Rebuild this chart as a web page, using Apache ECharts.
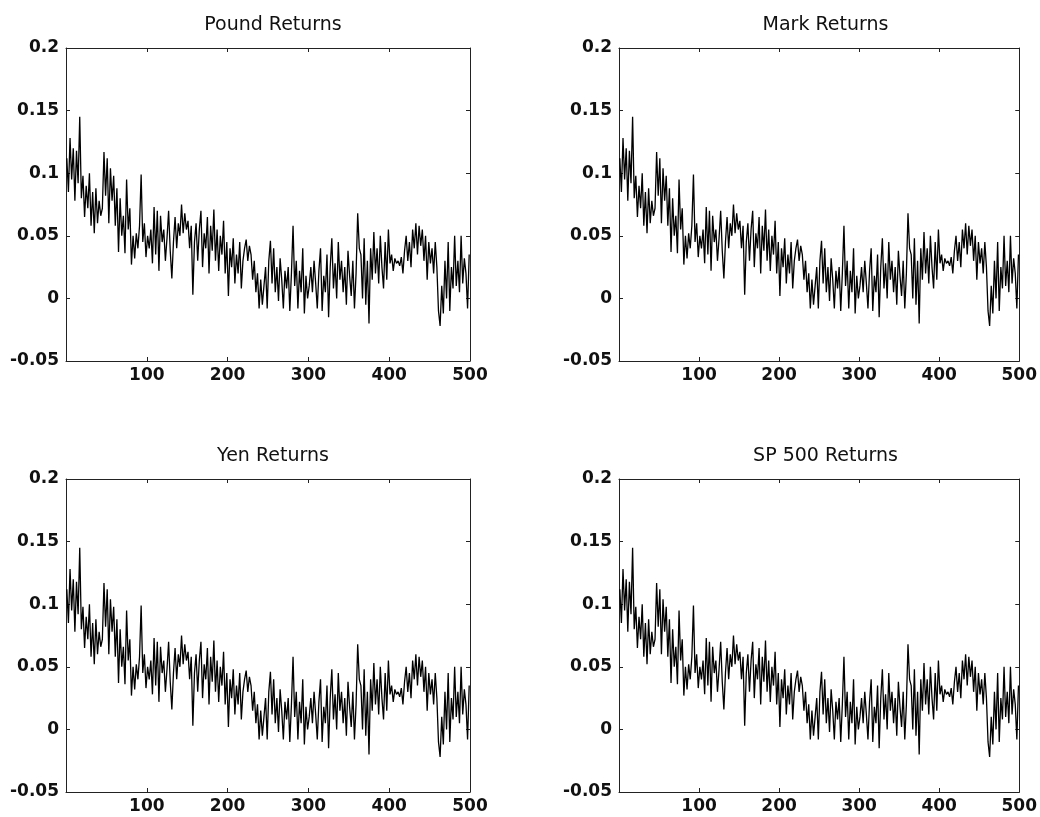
<!DOCTYPE html>
<html>
<head>
<meta charset="utf-8">
<script src="https://cdn.jsdelivr.net/npm/echarts@6/dist/echarts.min.js"></script>
<style>
  html, body { margin: 0; padding: 0; background: #fff; }
  #chart { width: 1040px; height: 817px; }
</style>
</head>
<body>
<div id="chart"></div>
<script>
// panel titles, in reading order
const panelTitles = ["Pound Returns", "Mark Returns", "Yen Returns", "SP 500 Returns"];

// tick values
const xTicks = [100, 200, 300, 400, 500];
const yTicks = [-0.05, 0, 0.05, 0.1, 0.15, 0.2];

// returns, one value every 2 periods (t = 1, 3, 5, ... 499)
const returns = [
  0.112, 0.085, 0.128, 0.095, 0.120, 0.078, 0.118, 0.092, 0.145, 0.080,
  0.098, 0.065, 0.090, 0.072, 0.100, 0.058, 0.085, 0.052, 0.088, 0.060,
  0.078, 0.066, 0.072, 0.117, 0.082, 0.112, 0.060, 0.104, 0.078, 0.098,
  0.058, 0.088, 0.037, 0.080, 0.050, 0.066, 0.036, 0.095, 0.055, 0.072,
  0.027, 0.050, 0.032, 0.052, 0.040, 0.058, 0.099, 0.045, 0.060, 0.033,
  0.050, 0.040, 0.055, 0.028, 0.073, 0.035, 0.070, 0.022, 0.066, 0.045,
  0.055, 0.030, 0.048, 0.070, 0.038, 0.016, 0.045, 0.065, 0.040, 0.060,
  0.050, 0.075, 0.052, 0.068, 0.055, 0.062, 0.040, 0.058, 0.003, 0.045,
  0.060, 0.030, 0.055, 0.070, 0.025, 0.052, 0.040, 0.065, 0.020, 0.058,
  0.038, 0.071, 0.030, 0.055, 0.022, 0.050, 0.035, 0.062, 0.020, 0.045,
  0.002, 0.040, 0.025, 0.048, 0.012, 0.035, 0.020, 0.045, 0.008, 0.030,
  0.040, 0.047, 0.030, 0.042, 0.035, 0.015, 0.030, 0.005, 0.020, -0.008,
  0.015, -0.005, 0.010, 0.025, -0.008, 0.030, 0.046, 0.012, 0.040, 0.005,
  0.025, -0.002, 0.032, 0.015, -0.008, 0.022, 0.008, 0.025, -0.010, 0.020,
  0.058, 0.010, 0.030, -0.008, 0.022, 0.005, 0.040, -0.012, 0.018, 0.000,
  0.010, 0.025, 0.005, 0.030, 0.012, -0.008, 0.022, 0.040, -0.010, 0.018,
  0.005, 0.035, -0.015, 0.025, 0.048, 0.008, 0.028, 0.000, 0.045, 0.015,
  0.030, 0.005, 0.025, -0.005, 0.038, 0.018, 0.002, 0.030, -0.008, 0.020,
  0.068, 0.040, 0.035, 0.000, 0.048, -0.005, 0.030, -0.020, 0.040, 0.015,
  0.053, 0.020, 0.040, 0.012, 0.050, 0.025, 0.008, 0.045, 0.015, 0.055,
  0.028, 0.035, 0.022, 0.032, 0.028, 0.030, 0.026, 0.033, 0.020, 0.038,
  0.050, 0.030, 0.045, 0.025, 0.055, 0.040, 0.060, 0.035, 0.058, 0.042,
  0.055, 0.030, 0.050, 0.015, 0.045, 0.028, 0.040, 0.020, 0.045, 0.025,
  -0.010, -0.022, 0.010, -0.012, 0.030, 0.000, 0.045, -0.010, 0.025, 0.008,
  0.050, 0.010, 0.030, 0.005, 0.050, 0.012, 0.032, 0.020, -0.008, 0.035
];

// the four panels show the same series
const panelData = [returns, returns, returns, returns];

const chart = echarts.init(document.getElementById("chart"));

const boxes = [
  { left: 66, top: 48, width: 404, height: 313 },
  { left: 619, top: 48, width: 403, height: 313 },
  { left: 66, top: 479, width: 404, height: 313 },
  { left: 619, top: 479, width: 403, height: 313 }
];

const lineColor = "#222";
const labelFont = { fontFamily: "DejaVu Sans", fontSize: 17, fontWeight: "bold", color: "#111" };

const grid = [], xAxis = [], yAxis = [], title = [], series = [];

boxes.forEach((b, i) => {
  grid.push({ left: b.left, top: b.top, width: b.width, height: b.height, show: false });

  title.push({
    text: panelTitles[i],
    left: b.left + b.width / 2,
    top: b.top - 37,
    textAlign: "center",
    textStyle: { fontFamily: "DejaVu Sans", fontSize: 19, fontWeight: "normal", color: "#111" }
  });

  // bottom / top x axes
  ["bottom", "top"].forEach((pos) => {
    xAxis.push({
      gridIndex: i,
      type: "value",
      position: pos,
      min: 0,
      max: xTicks[xTicks.length - 1],
      interval: 100,
      axisLine: { show: true, onZero: false, lineStyle: { color: lineColor, width: 1 } },
      axisTick: { show: true, inside: true, length: 4, lineStyle: { color: lineColor } },
      splitLine: { show: false },
      axisLabel: {
        show: pos === "bottom",
        showMinLabel: false,
        margin: 6,
        ...labelFont,
        formatter: (v) => (xTicks.includes(v) ? String(v) : "")
      }
    });
  });

  // left / right y axes
  ["left", "right"].forEach((pos) => {
    yAxis.push({
      gridIndex: i,
      type: "value",
      position: pos,
      min: yTicks[0],
      max: yTicks[yTicks.length - 1],
      interval: 0.05,
      axisLine: { show: true, onZero: false, lineStyle: { color: lineColor, width: 1 } },
      axisTick: { show: true, inside: true, length: 4, lineStyle: { color: lineColor } },
      splitLine: { show: false },
      axisLabel: {
        show: pos === "left",
        margin: 7,
        ...labelFont,
        formatter: (v) => String(+v.toFixed(2))
      }
    });
  });

  series.push({
    type: "line",
    xAxisIndex: i * 2,
    yAxisIndex: i * 2,
    data: panelData[i].map((v, k) => [k * 2 + 1, v]),
    showSymbol: false,
    symbol: "none",
    lineStyle: { color: "#000", width: 1.3 },
    sampling: null,
    silent: true
  });
});

chart.setOption({
  backgroundColor: "#fff",
  animation: false,
  title,
  grid,
  xAxis,
  yAxis,
  series
});

window.addEventListener("resize", () => chart.resize());
</script>
</body>
</html>
